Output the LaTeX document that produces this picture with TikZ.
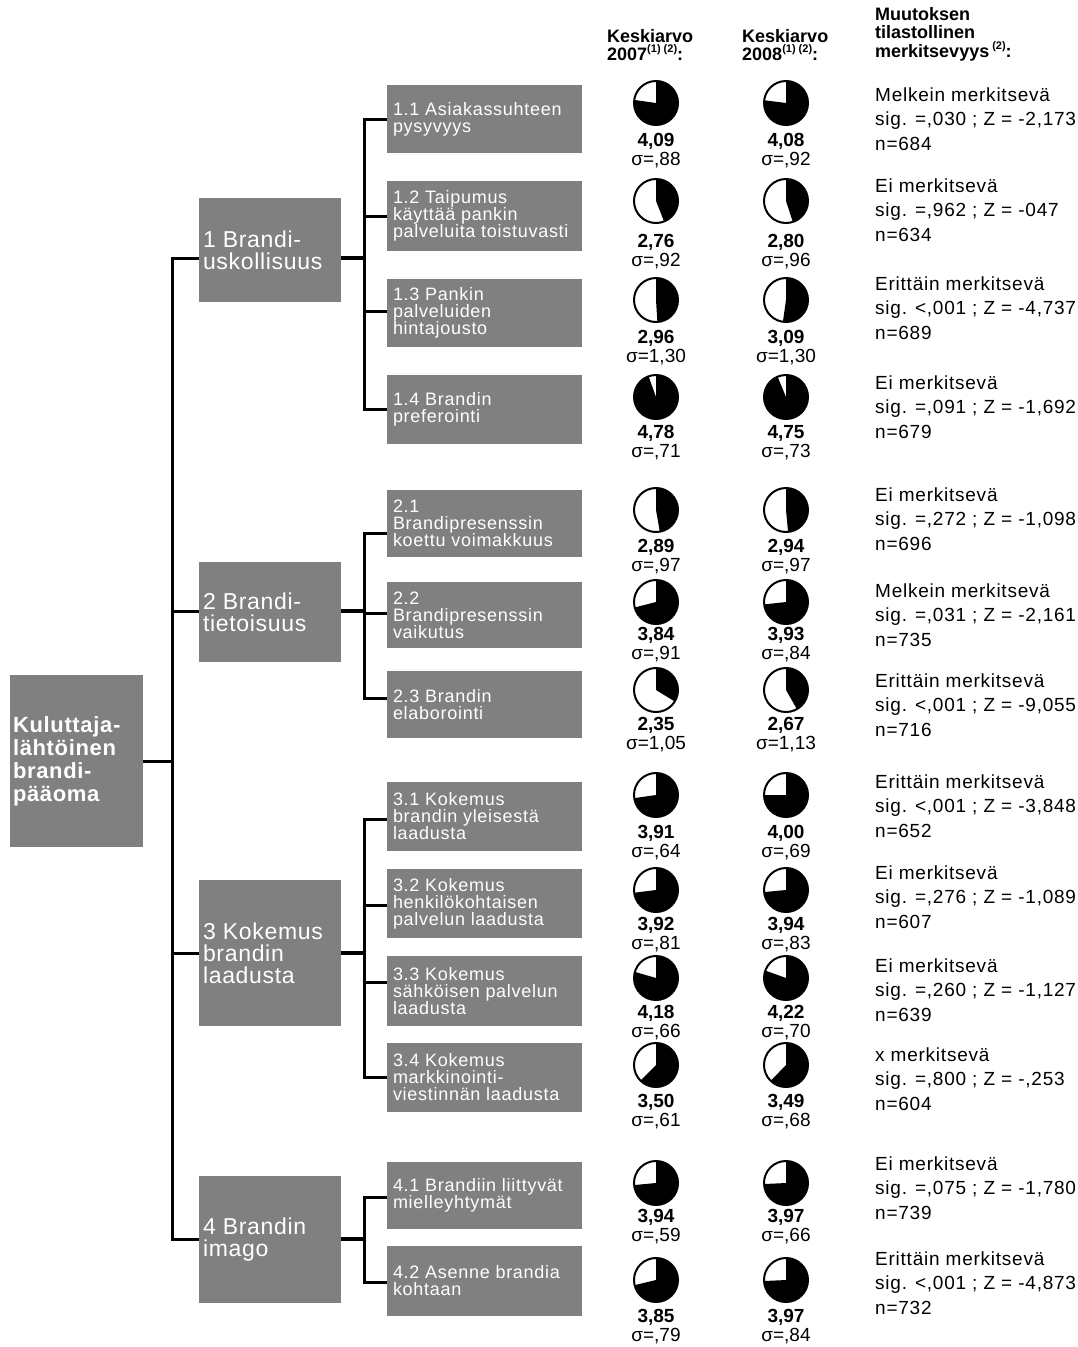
\documentclass[tikz,border=0pt]{standalone}
\usepackage{fontspec}
\setmainfont{Liberation Sans}
\newfontfamily\boxfont{Liberation Sans}[LetterSpace=4]
\newfontfamily\topfont{Liberation Sans}[LetterSpace=3]
\newfontfamily\sidefont{Liberation Sans}[LetterSpace=4]
\definecolor{boxgray}{HTML}{808080}

% pie: name, x, y, mean (scale 1..5, black share clockwise from twelve o'clock)
\newcommand{\meanpie}[4]{%
  \fill[white] (#2,#3) circle[radius=22pt];
  \pgfmathsetmacro{\pieend}{90-90*(#4-1)}%
  \begin{scope}[shift={(#2,#3)}, y=1pt]
    \fill[black] (0,0) -- (90:22) arc[start angle=90, end angle=\pieend, radius=22] -- cycle;
  \end{scope}
  \node[pieframe] (#1) at (#2,#3) {};
}
% one statistics cell: name, x, pie y, value y, mean, printed mean, printed deviation
\newcommand{\statcell}[7]{%
  \meanpie{#1}{#2}{#3}{#5}
  \node[valtext] (#1v) at (#2,#4) {#6};
  \node[sdtext] (#1s) at (#2,#4+19) {σ=#7};
}
% small superscript used in the headings
\newcommand{\hsup}[1]{\raisebox{0.45em}{\fontsize{11}{11}\selectfont #1}}

\begin{document}
\begin{tikzpicture}[x=1pt, y=-1pt,
  graybox/.style={rectangle, fill=boxgray, draw=none, inner sep=0pt},
  boxtext/.style={anchor=west, align=left, text=white, inner sep=0pt},
  subtext/.style={boxtext, font=\boxfont\fontsize{18}{17}\selectfont},
  toptext/.style={boxtext, font=\topfont\fontsize{23}{22}\selectfont},
  subbox/.style={graybox, minimum width=195pt},
  topbox/.style={graybox, minimum width=142pt},
  link/.style={line width=3pt},
  stem/.style={line width=4.5pt},
  pieframe/.style={circle, draw=black, line width=2pt, minimum size=44pt, inner sep=0pt},
  valtext/.style={font=\bfseries\fontsize{19}{19}\selectfont, inner sep=0pt},
  sdtext/.style={font=\fontsize{19}{19}\selectfont, inner sep=0pt},
  sigtext/.style={anchor=west, align=left, inner sep=0pt, font=\sidefont\fontsize{19}{24.5}\selectfont},
  headtext/.style={anchor=north west, align=left, inner sep=0pt, font=\bfseries\fontsize{18}{18.5}\selectfont}]
\useasboundingbox (0,0) rectangle (1078,1347);

% ---------- root ----------
\node[graybox, minimum width=133pt, minimum height=172pt] (root) at (76.5,761) {};
\node[boxtext, font=\topfont\bfseries\fontsize{22}{23}\selectfont] (roott) at ([xshift=3pt]root.west)
  {Kuluttaja-\\lähtöinen\\brandi-\\pääoma};

% ---------- main dimensions ----------
\node[topbox, minimum height=104pt] (b1) at (270,250) {};
\node[topbox, minimum height=100pt] (b2) at (270,612) {};
\node[topbox, minimum height=146pt] (b3) at (270,953) {};
\node[topbox, minimum height=127pt] (b4) at (270,1239.5) {};
\node[toptext] (b1t) at ([xshift=4pt]b1.west) {1 Brandi-\\uskollisuus};
\node[toptext] (b2t) at ([xshift=4pt]b2.west) {2 Brandi-\\tietoisuus};
\node[toptext] (b3t) at ([xshift=4pt]b3.west) {3 Kokemus\\brandin\\laadusta};
\node[toptext] (b4t) at ([xshift=4pt]b4.west) {4 Brandin\\imago};

% ---------- sub dimensions ----------
\node[subbox, minimum height=68pt] (s11) at (484.5,119) {};
\node[subbox, minimum height=70pt] (s12) at (484.5,216) {};
\node[subbox, minimum height=68pt] (s13) at (484.5,313) {};
\node[subbox, minimum height=69pt] (s14) at (484.5,409.5) {};
\node[subbox, minimum height=67pt] (s21) at (484.5,523.5) {};
\node[subbox, minimum height=66pt] (s22) at (484.5,615) {};
\node[subbox, minimum height=67pt] (s23) at (484.5,704.5) {};
\node[subbox, minimum height=69pt] (s31) at (484.5,816.5) {};
\node[subbox, minimum height=69pt] (s32) at (484.5,903.5) {};
\node[subbox, minimum height=70pt] (s33) at (484.5,991) {};
\node[subbox, minimum height=69pt] (s34) at (484.5,1077.5) {};
\node[subbox, minimum height=67pt] (s41) at (484.5,1195.5) {};
\node[subbox, minimum height=70pt] (s42) at (484.5,1281) {};

\node[subtext] (s11t) at ([xshift=6pt]s11.west) {1.1 Asiakassuhteen\\pysyvyys};
\node[subtext] (s12t) at ([xshift=6pt]s12.west) {1.2 Taipumus\\käyttää pankin\\palveluita toistuvasti};
\node[subtext] (s13t) at ([xshift=6pt]s13.west) {1.3 Pankin\\palveluiden\\hintajousto};
\node[subtext] (s14t) at ([xshift=6pt]s14.west) {1.4 Brandin\\preferointi};
\node[subtext] (s21t) at ([xshift=6pt]s21.west) {2.1\\Brandipresenssin\\koettu voimakkuus};
\node[subtext] (s22t) at ([xshift=6pt]s22.west) {2.2\\Brandipresenssin\\vaikutus};
\node[subtext] (s23t) at ([xshift=6pt]s23.west) {2.3 Brandin\\elaborointi};
\node[subtext] (s31t) at ([xshift=6pt]s31.west) {3.1 Kokemus\\brandin yleisestä\\laadusta};
\node[subtext] (s32t) at ([xshift=6pt]s32.west) {3.2 Kokemus\\henkilökohtaisen\\palvelun laadusta};
\node[subtext] (s33t) at ([xshift=6pt]s33.west) {3.3 Kokemus\\sähköisen palvelun\\laadusta};
\node[subtext] (s34t) at ([xshift=6pt]s34.west) {3.4 Kokemus\\markkinointi-\\viestinnän laadusta};
\node[subtext] (s41t) at ([xshift=6pt]s41.west) {4.1 Brandiin liittyvät\\mielleyhtymät};
\node[subtext] (s42t) at ([xshift=6pt]s42.west) {4.2 Asenne brandia\\kohtaan};

% ---------- tree connectors ----------
\coordinate (tt) at (172,258);
\coordinate (t2) at (172,611);
\coordinate (t3) at (172,953);
\coordinate (tb) at (172,1239);
\draw[link] (b1.west |- tt) -- (tt) -- (tb) -- (b4.west |- tb);
\draw[link] (t2) -- (b2.west |- t2);
\draw[link] (t3) -- (b3.west |- t3);
\draw[link] (root.east) -- (root.east -| tt);

% group 1
\coordinate (g1a) at (364,119);
\coordinate (g1b) at (364,216);
\coordinate (g1c) at (364,311);
\coordinate (g1d) at (364,409);
\draw[link] (s11.west |- g1a) -- (g1a) -- (g1d) -- (s14.west |- g1d);
\draw[link] (g1b) -- (s12.west |- g1b);
\draw[link] (g1c) -- (s13.west |- g1c);
\draw[stem] (b1.east |- tt) -- (g1a |- tt);
% group 2
\coordinate (g2a) at (364,533);
\coordinate (g2b) at (364,613);
\coordinate (g2c) at (364,698);
\draw[link] (s21.west |- g2a) -- (g2a) -- (g2c) -- (s23.west |- g2c);
\draw[link] (g2b) -- (s22.west |- g2b);
\draw[stem] (b2.east |- t2) -- (g2a |- t2);
% group 3
\coordinate (g3a) at (364,819);
\coordinate (g3b) at (364,905);
\coordinate (g3c) at (364,982);
\coordinate (g3d) at (364,1077);
\draw[link] (s31.west |- g3a) -- (g3a) -- (g3d) -- (s34.west |- g3d);
\draw[link] (g3b) -- (s32.west |- g3b);
\draw[link] (g3c) -- (s33.west |- g3c);
\draw[stem] (b3.east |- t3) -- (g3a |- t3);
% group 4
\coordinate (g4a) at (364,1197);
\coordinate (g4b) at (364,1282);
\draw[link] (s41.west |- g4a) -- (g4a) -- (g4b) -- (s42.west |- g4b);
\draw[stem] (b4.east |- tb) -- (g4a |- tb);

% ---------- column headings ----------
\node[headtext] (h1) at (607,29) {Keskiarvo\\2007\hsup{(1) (2)}:};
\node[headtext] (h2) at (742,29) {Keskiarvo\\2008\hsup{(1) (2)}:};
\node[headtext] (h3) at (875,7) {Muutoksen\\tilastollinen\\merkitsevyys\,\hsup{(2)}:};

% ---------- means 2007 and 2008 ----------
\statcell{p11a}{656}{103}{141}{4.09}{4,09}{,88}
\statcell{p11b}{786}{103}{141}{4.08}{4,08}{,92}
\statcell{p12a}{656}{201}{242}{2.76}{2,76}{,92}
\statcell{p12b}{786}{201}{242}{2.80}{2,80}{,96}
\statcell{p13a}{656}{300}{338}{2.96}{2,96}{1,30}
\statcell{p13b}{786}{300}{338}{3.09}{3,09}{1,30}
\statcell{p14a}{656}{397}{433}{4.78}{4,78}{,71}
\statcell{p14b}{786}{397}{433}{4.75}{4,75}{,73}
\statcell{p21a}{656}{510}{547}{2.89}{2,89}{,97}
\statcell{p21b}{786}{510}{547}{2.94}{2,94}{,97}
\statcell{p22a}{656}{602}{635}{3.84}{3,84}{,91}
\statcell{p22b}{786}{602}{635}{3.93}{3,93}{,84}
\statcell{p23a}{656}{690}{725}{2.35}{2,35}{1,05}
\statcell{p23b}{786}{690}{725}{2.67}{2,67}{1,13}
\statcell{p31a}{656}{795}{833}{3.91}{3,91}{,64}
\statcell{p31b}{786}{795}{833}{4.00}{4,00}{,69}
\statcell{p32a}{656}{890}{925}{3.92}{3,92}{,81}
\statcell{p32b}{786}{890}{925}{3.94}{3,94}{,83}
\statcell{p33a}{656}{978}{1013}{4.18}{4,18}{,66}
\statcell{p33b}{786}{978}{1013}{4.22}{4,22}{,70}
\statcell{p34a}{656}{1065}{1102}{3.50}{3,50}{,61}
\statcell{p34b}{786}{1065}{1102}{3.49}{3,49}{,68}
\statcell{p41a}{656}{1183}{1217}{3.94}{3,94}{,59}
\statcell{p41b}{786}{1183}{1217}{3.97}{3,97}{,66}
\statcell{p42a}{656}{1280}{1317}{3.85}{3,85}{,79}
\statcell{p42b}{786}{1280}{1317}{3.97}{3,97}{,84}

% ---------- significance of change ----------
\node[sigtext] (z11) at (875,119) {Melkein merkitsevä\\sig. =,030 ; Z = -2,173\\n=684};
\node[sigtext] (z12) at (875,210) {Ei merkitsevä\\sig. =,962 ; Z = -047\\n=634};
\node[sigtext] (z13) at (875,308) {Erittäin merkitsevä\\sig. <,001 ; Z = -4,737\\n=689};
\node[sigtext] (z14) at (875,407) {Ei merkitsevä\\sig. =,091 ; Z = -1,692\\n=679};
\node[sigtext] (z21) at (875,519) {Ei merkitsevä\\sig. =,272 ; Z = -1,098\\n=696};
\node[sigtext] (z22) at (875,615) {Melkein merkitsevä\\sig. =,031 ; Z = -2,161\\n=735};
\node[sigtext] (z23) at (875,705) {Erittäin merkitsevä\\sig. <,001 ; Z = -9,055\\n=716};
\node[sigtext] (z31) at (875,806) {Erittäin merkitsevä\\sig. <,001 ; Z = -3,848\\n=652};
\node[sigtext] (z32) at (875,897) {Ei merkitsevä\\sig. =,276 ; Z = -1,089\\n=607};
\node[sigtext] (z33) at (875,990) {Ei merkitsevä\\sig. =,260 ; Z = -1,127\\n=639};
\node[sigtext] (z34) at (875,1079) {x merkitsevä\\sig. =,800 ; Z = -,253\\n=604};
\node[sigtext] (z41) at (875,1188) {Ei merkitsevä\\sig. =,075 ; Z = -1,780\\n=739};
\node[sigtext] (z42) at (875,1283) {Erittäin merkitsevä\\sig. <,001 ; Z = -4,873\\n=732};
\end{tikzpicture}
\end{document}
